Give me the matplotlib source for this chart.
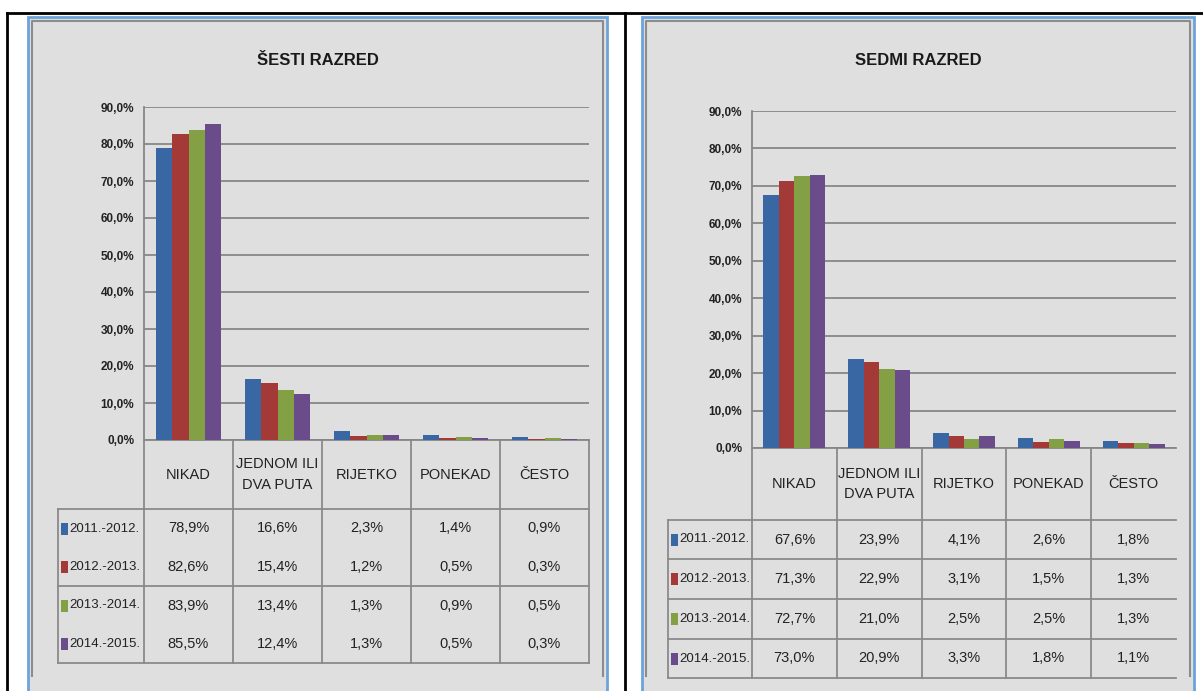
import matplotlib
matplotlib.use("Agg")
import matplotlib.pyplot as plt
from matplotlib.patches import Rectangle
import matplotlib.font_manager as fm

# ---------------- data ----------------
categories = ["NIKAD", "JEDNOM ILI\nDVA PUTA", "RIJETKO", "PONEKAD", "ČESTO"]
years = ["2011.-2012.", "2012.-2013.", "2013.-2014.", "2014.-2015."]

sesti_2011 = [78.9, 16.6, 2.3, 1.4, 0.9]
sesti_2012 = [82.6, 15.4, 1.2, 0.5, 0.3]
sesti_2013 = [83.9, 13.4, 1.3, 0.9, 0.5]
sesti_2014 = [85.5, 12.4, 1.3, 0.5, 0.3]

sedmi_2011 = [67.6, 23.9, 4.1, 2.6, 1.8]
sedmi_2012 = [71.3, 22.9, 3.1, 1.5, 1.3]
sedmi_2013 = [72.7, 21.0, 2.5, 2.5, 1.3]
sedmi_2014 = [73.0, 20.9, 3.3, 1.8, 1.1]

yticks = [0, 10, 20, 30, 40, 50, 60, 70, 80, 90]
colors = ["#3967A4", "#A33A38", "#83A044", "#6A4C8A"]

# ---------------- fonts ----------------
names = {f.name for f in fm.fontManager.ttflist}
NARROW = ["Liberation Sans Narrow", "Liberation Sans", "DejaVu Sans"] if "Liberation Sans Narrow" in names \
    else ["Liberation Sans", "DejaVu Sans"]
plt.rcParams["font.family"] = NARROW

W, H = 1203, 691
fig = plt.figure(figsize=(W / 100, H / 100), dpi=100)
fig.patch.set_facecolor("white")

base = fig.add_axes([0, 0, 1, 1])
base.set_xlim(0, W)
base.set_ylim(H, 0)
base.axis("off")

BG = "#DFDFDF"
GRID = "#878787"
BLUE_FRAME = "#6BA3DA"

# outer black frame
base.plot([7, W], [13, 13], color="black", lw=2)
base.plot([7, 7], [13, H], color="black", lw=2)
base.plot([625, 625], [13, H], color="black", lw=2)


def panel(px0, px1, title, series, plot_x0, plot_x1, y0, y90,
          tab_left, row_lines, drawn_rows, right_border):
    # panel background and frames
    base.add_patch(Rectangle((px0, 17), px1 - px0, H - 17 + 5, facecolor=BG,
                             edgecolor=BLUE_FRAME, lw=2, zorder=1))
    base.plot([px0 + 4, px0 + 4, px1 - 4, px1 - 4], [676, 21, 21, 676],
              color="#8C8C8C", lw=1.5, zorder=2)
    base.text((px0 + px1) / 2, 60, title, ha="center", va="center",
              fontsize=12, fontweight="bold", color="#1a1a1a", zorder=3)

    # bar axes
    ax = fig.add_axes([plot_x0 / W, 1 - y0 / H, (plot_x1 - plot_x0) / W, (y0 - y90) / H])
    ax.set_facecolor("none")
    n = len(series)
    bw = 0.73 / n
    xs = list(range(len(categories)))
    for i, vals in enumerate(series):
        ax.bar([x + (i - (n - 1) / 2) * bw for x in xs], vals, width=bw,
               color=colors[i], edgecolor="none", zorder=3)
    ax.set_xlim(-0.5, len(categories) - 0.5)
    ax.set_ylim(0, 90)
    ax.set_yticks(yticks)
    ax.set_yticklabels([f"{t:.1f}%".replace(".", ",") for t in yticks],
                       fontsize=8.5, fontweight="bold", color="#222222")
    ax.tick_params(axis="y", length=0, pad=7)
    ax.set_xticks([])
    ax.grid(axis="y", color=GRID, lw=1.3, zorder=0)
    for s in ["top", "right"]:
        ax.spines[s].set_visible(False)
    ax.spines["left"].set_color(GRID)
    ax.spines["bottom"].set_color(GRID)
    ax.spines["left"].set_linewidth(1.3)
    ax.spines["bottom"].set_linewidth(1.3)

    # table
    cw = (plot_x1 - plot_x0) / len(categories)
    bottom = row_lines[-1]
    lc = "#8A8A8A"
    for k in range(len(categories) + (1 if right_border else 0)):
        x = plot_x0 + k * cw
        base.plot([x, x], [y0, bottom], color=lc, lw=1.3, zorder=2)
    base.plot([tab_left, tab_left], [row_lines[0], bottom], color=lc, lw=1.3, zorder=2)
    for j in drawn_rows:
        base.plot([tab_left, plot_x1], [row_lines[j], row_lines[j]], color=lc, lw=1.3, zorder=2)
    for k, c in enumerate(categories):
        base.text(plot_x0 + (k + 0.5) * cw, (y0 + row_lines[0]) / 2, c, ha="center",
                  va="center", fontsize=10.5, color="#222222", linespacing=1.6, zorder=3)
    for i, vals in enumerate(series):
        yc = (row_lines[i] + row_lines[i + 1]) / 2
        base.add_patch(Rectangle((tab_left + 3, yc - 6), 7, 12, facecolor=colors[i],
                                 edgecolor="none", zorder=3))
        base.text(tab_left + 11, yc, years[i], ha="left", va="center", fontsize=9.5,
                  color="#222222", zorder=3)
        for k, v in enumerate(vals):
            base.text(plot_x0 + (k + 0.5) * cw, yc, f"{v:.1f}%".replace(".", ","),
                      ha="center", va="center", fontsize=10.5, color="#222222", zorder=3)


panel(28, 607, "ŠESTI RAZRED", [sesti_2011, sesti_2012, sesti_2013, sesti_2014],
      144, 589, 440, 107, 58, [509, 548, 586, 625, 663], [0, 2, 4], True)
panel(642, 1194, "SEDMI RAZRED", [sedmi_2011, sedmi_2012, sedmi_2013, sedmi_2014],
      752, 1176, 448, 111, 668, [520, 559, 599, 639, 678], [0, 1, 2, 3, 4], False)

fig.savefig("out.png", dpi=100, facecolor="white")
